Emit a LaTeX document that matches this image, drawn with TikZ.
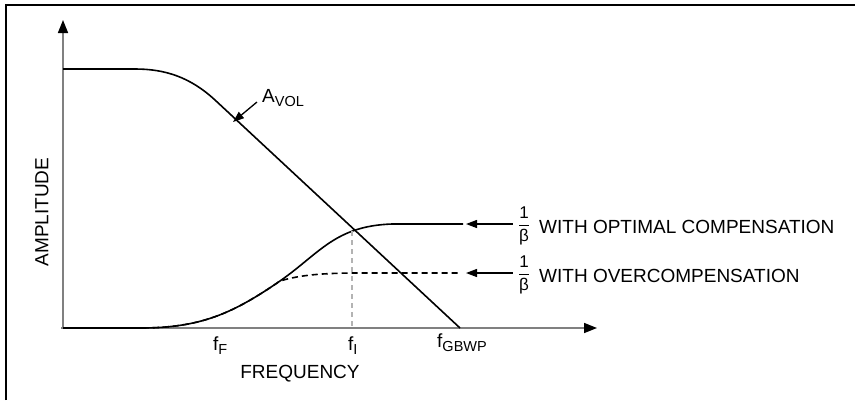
\documentclass[tikz,border=0pt]{standalone}
\usepackage{fontspec}
\setmainfont{Liberation Sans}
\usetikzlibrary{arrows.meta}
\definecolor{axisgray}{RGB}{128,128,128}
\newcommand{\lsub}[1]{\raisebox{-0.4ex}{\fontsize{14.5}{14.5}\selectfont #1}}
\newcommand{\invbeta}{$\displaystyle\frac{\mbox{1}}{\mbox{β}}$}

\begin{document}
\begin{tikzpicture}[x=1pt,y=-1pt]
\tikzset{every node/.style={font=\fontsize{19}{21}\selectfont, inner sep=0pt},
  axis/.style={draw=axisgray, line width=1.6pt, -{Triangle[length=13pt,width=10pt,color=black]}},
  curve/.style={line width=1.6pt, black},
  ptr/.style={line width=1.3pt, -{Triangle[length=11pt,width=8pt]}},
  frac/.style={font=\fontsize{17}{17}\selectfont}}
\useasboundingbox (0,0) rectangle (855,400);

% Frame
\draw[line width=1.6pt] (6,400) -- (6,5) -- (855,5);

% Axes
\coordinate (O) at (63,328);
\coordinate (ytip) at (63,20);
\coordinate (xtip) at (597,328);
\draw[axis] (O) -- (ytip);
\draw[axis] ([xshift=-2pt]O) -- (xtip);

% Open loop gain
\coordinate (avolstart) at (63,69);
\coordinate (gbwp) at (460,328);
\draw[curve] (avolstart) -- (135,69) .. controls (165,69) and (190,77) .. (215,100) -- (gbwp);

% Noise gain curves
\coordinate (fi) at (352,231);
\draw[curve] (O) -- (140,328) .. controls (200,328) and (232,314) .. (280,281)
  .. controls (320,253) and (335,226) .. (392,224) -- (463,224);
\draw[curve, dashed, dash pattern=on 6pt off 4pt] (O) -- (140,328) .. controls (200,328) and (232,314) .. (280,281)
  .. controls (300,275) and (322,273) .. (360,273) -- (461,273);
\draw[axisgray!60, line width=1.3pt, dash pattern=on 5pt off 4pt] (fi) -- (352,328);

% Labels
\node[rotate=90] (amp) at (42,212) {AMPLITUDE};
\node (freq) at (300,374) {FREQUENCY};
\node[anchor=base west] (fF) at (213,350) {f\lsub{F}};
\node[anchor=base west] (fI) at (348,350) {f\lsub{I}};
\node[anchor=base west] (fG) at (437,347) {f\lsub{GBWP}};
\node[anchor=base west] (avol) at (262,102) {A\lsub{VOL}};
\coordinate (avoltip) at (233,122);
\draw[ptr] (257,102) -- (avoltip);

\node[frac] (optfrac) at (524,226) {\invbeta};
\node[anchor=west] (opt) at (539,227) {WITH OPTIMAL COMPENSATION};
\coordinate (opttip) at (466,224);
\draw[ptr] ([xshift=-5pt]optfrac.west |- opttip) -- (opttip);

\node[frac] (overfrac) at (524,275) {\invbeta};
\node[anchor=west] (over) at (539,276) {WITH OVERCOMPENSATION};
\coordinate (overtip) at (466,273);
\draw[ptr] ([xshift=-5pt]overfrac.west |- overtip) -- (overtip);
\end{tikzpicture}
\end{document}
